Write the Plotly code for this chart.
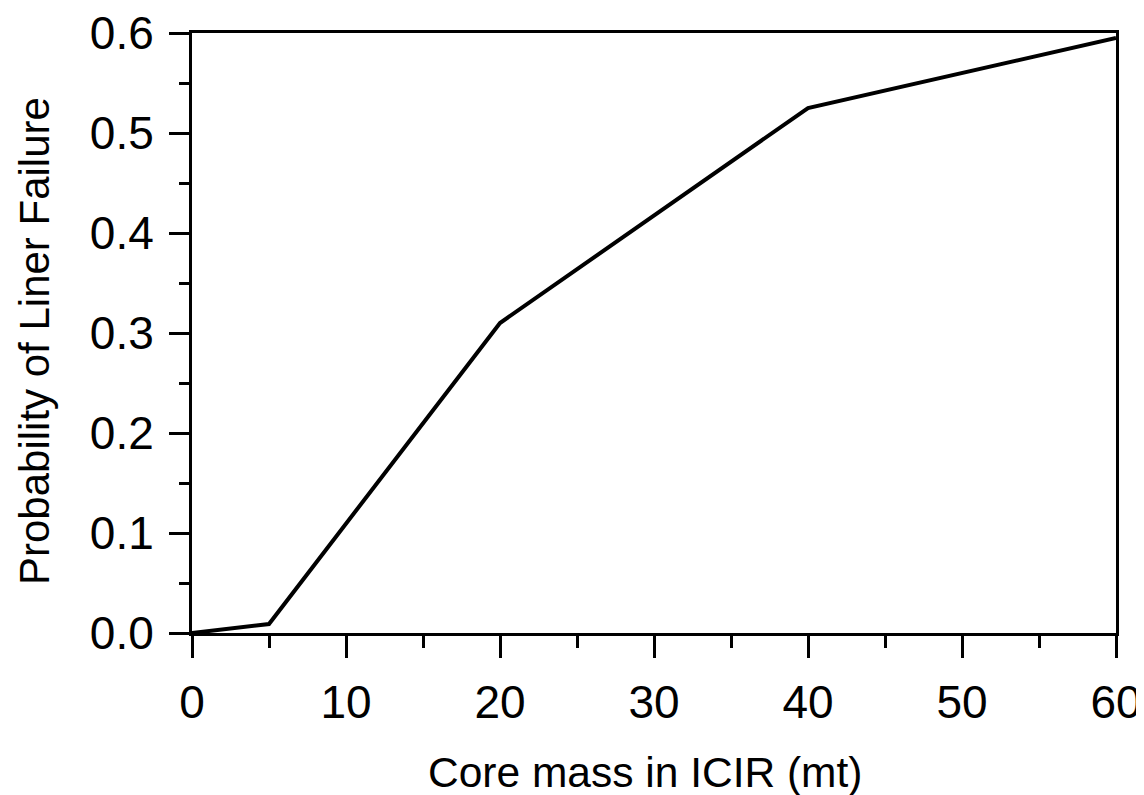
import plotly.graph_objects as go

core_mass = [0, 5, 20, 40, 60]
prob_failure = [0.0, 0.009, 0.31, 0.525, 0.595]

x_ticks = [0, 10, 20, 30, 40, 50, 60]
x_tick_text = ["0", "10", "20", "30", "40", "50", "60"]
y_ticks = [0.0, 0.1, 0.2, 0.3, 0.4, 0.5, 0.6]
y_tick_text = ["0.0", "0.1", "0.2", "0.3", "0.4", "0.5", "0.6"]

x_title = "Core mass in ICIR (mt)"
y_title = "Probability of Liner Failure"

font_family = "Liberation Sans, Arial, sans-serif"

fig = go.Figure()
fig.add_trace(go.Scatter(
    x=core_mass, y=prob_failure, mode="lines",
    line=dict(color="black", width=4),
    showlegend=False, cliponaxis=False,
))

fig.update_layout(
    width=1144, height=795,
    paper_bgcolor="white", plot_bgcolor="white",
    margin=dict(l=184, r=36, t=25, b=170),
    font=dict(family=font_family, color="black"),
)

fig.update_xaxes(
    range=[0, 60], automargin=False,
    tickmode="array", tickvals=x_ticks, ticktext=x_tick_text,
    ticks="outside", ticklen=22, tickwidth=2.5, tickcolor="black",
    ticklabelstandoff=5, ticklabeloverflow="allow",
    minor=dict(ticks="outside", ticklen=12, tickwidth=2.5, tickcolor="black", dtick=5, tick0=0, showgrid=False),
    showline=True, linecolor="black", linewidth=3, mirror=True,
    showgrid=False, zeroline=False,
    tickfont=dict(size=46, family=font_family),
)
fig.update_yaxes(
    range=[0, 0.6], automargin=False,
    tickmode="array", tickvals=y_ticks, ticktext=y_tick_text,
    ticks="outside", ticklen=20, tickwidth=2.5, tickcolor="black",
    ticklabelstandoff=6, ticklabeloverflow="allow",
    minor=dict(ticks="outside", ticklen=10, tickwidth=2.5, tickcolor="black", dtick=0.05, tick0=0, showgrid=False),
    showline=True, linecolor="black", linewidth=3, mirror=True,
    showgrid=False, zeroline=False,
    tickfont=dict(size=46, family=font_family),
)

fig.add_annotation(
    text=x_title, xref="paper", yref="paper",
    x=(645 - 192) / 924, y=-(772 - 633) / 600,
    xanchor="center", yanchor="middle", showarrow=False,
    font=dict(size=42.5, family=font_family, color="black"),
)
fig.add_annotation(
    text=y_title, xref="paper", yref="paper", textangle=-90,
    x=(34 - 192) / 924, y=(633 - 341) / 600,
    xanchor="center", yanchor="middle", showarrow=False,
    font=dict(size=42, family=font_family, color="black"),
)

fig.write_html("out.html")
